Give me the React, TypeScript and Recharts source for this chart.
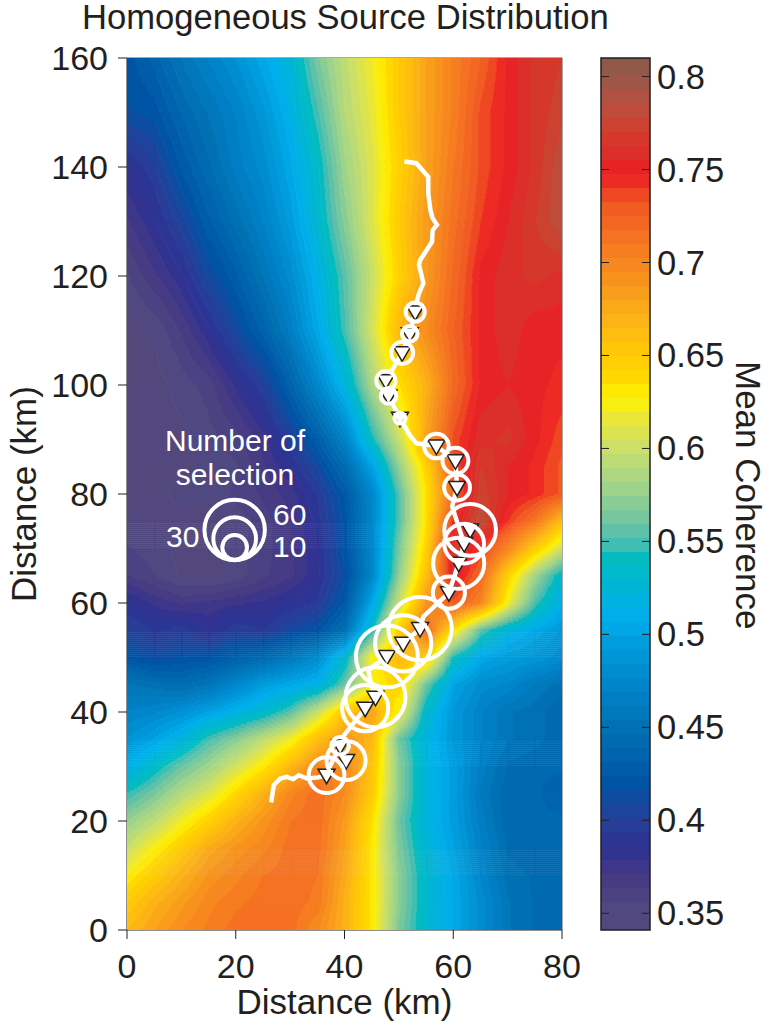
import { ScatterChart, Scatter, XAxis, YAxis, ReferenceArea, ReferenceLine } from "recharts";

const FONT = "'Liberation Sans', Arial, sans-serif";
const INK = "#231f20";

const xTicks = [0, 20, 40, 60, 80];
const yTicks = [0, 20, 40, 60, 80, 100, 120, 140, 160];
const barTicks = [0.35, 0.4, 0.45, 0.5, 0.55, 0.6, 0.65, 0.7, 0.75, 0.8];

const gridX = [0, 5, 10, 15, 20, 25, 30, 35, 40, 45, 50, 55, 60, 65, 70, 75, 80];
const gridY = [160, 150, 140, 130, 120, 110, 100, 90, 85, 80, 75, 70, 65, 60, 55, 50, 45, 40, 35, 30, 25, 20, 15, 10, 5, 0];

const r160 = [.42, .435, .455, .47, .485, .505, .525, .565, .595, .62, .65, .68, .705, .725, .75, .765, .77];
const r150 = [.415, .42, .44, .455, .47, .49, .515, .55, .59, .615, .65, .68, .705, .735, .75, .765, .775];
const r140 = [.385, .40, .425, .445, .465, .48, .505, .535, .58, .61, .645, .68, .71, .735, .75, .765, .785];
const r130 = [.37, .385, .405, .43, .45, .47, .495, .53, .57, .61, .65, .685, .715, .74, .755, .77, .785];
const r120 = [.355, .37, .385, .41, .43, .455, .48, .515, .555, .60, .645, .685, .72, .75, .76, .765, .76];
const r110 = [.345, .35, .365, .385, .41, .435, .465, .505, .55, .605, .665, .695, .725, .75, .76, .75, .75];
const r100 = [.345, .345, .352, .36, .38, .40, .435, .475, .52, .585, .635, .67, .72, .75, .755, .75, .745];
const r90 = [.345, .345, .346, .353, .36, .375, .40, .43, .47, .54, .60, .68, .735, .76, .765, .75, .735];
const r85 = [.345, .346, .345, .352, .355, .37, .385, .41, .445, .50, .575, .645, .73, .77, .755, .745, .73];
const r80 = [.346, .345, .352, .35, .358, .365, .375, .395, .425, .475, .555, .635, .72, .775, .755, .745, .73];
const r75 = [.352, .346, .345, .346, .352, .36, .37, .39, .42, .475, .555, .635, .745, .785, .74, .71, .66];
const r70 = [.357, .352, .346, .345, .353, .36, .37, .385, .42, .475, .565, .645, .77, .74, .70, .65, .60];
const r65 = [.364, .356, .347, .345, .352, .362, .37, .385, .415, .475, .575, .66, .76, .72, .645, .58, .53];
const r60 = [.388, .377, .37, .373, .377, .38, .387, .395, .425, .505, .60, .69, .73, .70, .62, .55, .51];
const r55 = [.403, .392, .397, .386, .399, .394, .409, .42, .45, .54, .65, .72, .635, .555, .52, .505, .49];
const r50 = [.422, .412, .418, .42, .434, .443, .46, .48, .53, .625, .665, .65, .54, .505, .495, .49, .48];
const r45 = [.455, .45, .445, .455, .475, .495, .505, .515, .56, .62, .645, .56, .50, .48, .475, .46, .45];
const r40 = [.47, .475, .485, .50, .515, .53, .555, .60, .655, .68, .62, .53, .49, .47, .455, .45, .44];
const r35 = [.485, .50, .52, .55, .57, .595, .62, .66, .69, .665, .56, .52, .49, .47, .455, .45, .44];
const r30 = [.51, .535, .56, .58, .605, .63, .665, .70, .70, .655, .57, .52, .495, .465, .445, .44, .44];
const r25 = [.545, .565, .59, .61, .64, .67, .70, .716, .695, .65, .57, .52, .495, .46, .44, .44, .435];
const r20 = [.575, .595, .62, .645, .67, .69, .71, .716, .685, .635, .56, .52, .495, .465, .44, .44, .44];
const r15 = [.60, .625, .65, .675, .69, .70, .714, .714, .68, .63, .565, .525, .50, .47, .445, .44, .445];
const r10 = [.627, .65, .67, .69, .70, .71, .714, .71, .675, .63, .57, .53, .505, .475, .45, .445, .445];
const r5 = [.65, .67, .685, .70, .708, .714, .714, .708, .67, .63, .57, .53, .505, .48, .455, .445, .44];
const r0 = [.665, .68, .695, .705, .714, .714, .714, .695, .67, .63, .565, .53, .505, .48, .455, .445, .44];
const gridRows = [r160, r150, r140, r130, r120, r110, r100, r90, r85, r80, r75, r70, r65, r60, r55, r50, r45, r40, r35, r30, r25, r20, r15, r10, r5, r0];

// fault trace
const traceX = [51, 53.2, 55.4, 55.4, 55.8, 56.2, 57, 56.2, 56.1, 53.9, 53.7, 54.5, 53.7, 53.2, 53, 52, 50.6, 47.6, 48.1, 50.2, 52, 53.2, 56.9, 60.4, 60.7, 59.8, 60.4, 62, 61, 59.2, 54.5, 53.9, 50.8, 47.8, 44.4, 44.7, 45.7, 43.8, 40.7, 39.5, 39.2, 37.3, 36.7, 35.2, 33.1, 31.6, 30.6, 29.4, 28.2, 27, 26.5];
const traceY = [141, 140.7, 138.2, 135.2, 132.1, 130.6, 129.4, 128.4, 126.3, 122.9, 122, 118.7, 116.8, 115, 113.4, 109.4, 105.9, 100.8, 98, 93.9, 90.8, 89.3, 88.8, 86.1, 81.2, 77.7, 75.8, 70.9, 67.3, 61.9, 57.5, 55.3, 52.6, 50.2, 47.7, 45.9, 42.7, 40.7, 36.7, 35.2, 33.8, 30, 28.4, 28, 27.8, 28.4, 27.7, 28.1, 27.8, 26.6, 23.4];

// stations and how many times each was selected
const stationX = [53, 52, 50.6, 47.6, 48.1, 50.2, 56.9, 60.4, 60.7, 63.1, 62, 61, 59.2, 53.9, 50.8, 47.8, 45.7, 43.8, 39.2, 40.3, 36.7];
const stationY = [113.4, 109.4, 105.9, 100.8, 98, 93.9, 88.8, 86.1, 81.2, 73.4, 70.9, 67.3, 61.9, 55.3, 52.6, 50.2, 42.7, 40.7, 33.8, 31.1, 28.4];
const selections = [6, 4, 8, 6, 4, 2, 10, 11, 11, 44, 26, 43, 17, 66, 52, 63, 59, 35, 5, 25, 21];

const legendN = [60, 30, 10];
const legendX = [19.8, 19.8, 19.8];
const legendY = [73.4, 71.8, 70.2];

const colorStops: [number, string][] = [
  [.341, "#54477a"], [.35, "#514a80"], [.37, "#453a85"], [.385, "#2e3192"], [.40, "#263f98"], [.42, "#0054a6"],
  [.45, "#0071b3"], [.47, "#0082c8"], [.50, "#00a2e0"], [.507, "#00aeef"], [.525, "#00b5d5"], [.54, "#00bcc0"],
  [.55, "#4fbeb0"], [.565, "#7bc89a"], [.58, "#a3d48a"], [.60, "#cadf6a"], [.615, "#e8e63a"], [.627, "#fff200"],
  [.64, "#ffd500"], [.65, "#ffcb05"], [.665, "#fdb813"], [.68, "#faa21b"], [.70, "#f6861f"], [.715, "#f57022"],
  [.73, "#f15a22"], [.74, "#f03c24"], [.747, "#ed1c24"], [.755, "#e02a28"], [.77, "#d23d2c"], [.785, "#b95040"],
  [.80, "#975848"], [.81, "#8a5a4a"],
];

const hex = (s: string) => [1, 3, 5].map((i) => parseInt(s.slice(i, i + 2), 16));
const colorOf = (v: number) => {
  let i = 0;
  while (i < colorStops.length - 2 && v > colorStops[i + 1][0]) i++;
  const [a, ca] = colorStops[i];
  const [b, cb] = colorStops[i + 1];
  const t = Math.max(0, Math.min(1, (v - a) / (b - a)));
  const c0 = hex(ca);
  const c1 = hex(cb);
  return `rgb(${c0.map((c, k) => Math.round(c + (c1[k] - c) * t)).join(",")})`;
};

const BAR_MIN = 0.341;
const BAR_MAX = 0.81;
const BAR_STEP = 0.00753;
const bands: number[] = [];
for (let v = BAR_MIN; v < BAR_MAX; v += BAR_STEP) bands.push(v);
const bandColors = bands.map((v) => colorOf(v + BAR_STEP / 2));

const PX_X = 435 / 80;
const PX_Y = 872 / 160;

const heatData = gridRows.flatMap((row, j) => row.map((v, i) => ({ x: gridX[i], y: gridY[j], v, i, j })));
const traceData = traceX.map((x, i) => ({ x, y: traceY[i] }));
const stationData = stationX.map((x, i) => ({ x, y: stationY[i], n: selections[i] }));
const legendData = legendN.map((n, i) => ({ x: legendX[i], y: legendY[i], n }));
const barAnchors = [{ x: 0, y: BAR_MIN }, { x: 1, y: BAR_MAX }];

// one grid cell filled the way a contour plot does: corner values blended, then snapped to the colour bands
const HeatCell = (p: any) => {
  const { i, j } = p.payload;
  if (i >= gridX.length - 1 || j >= gridY.length - 1) return <g />;
  const w = (gridX[i + 1] - gridX[i]) * PX_X;
  const h = (gridY[j] - gridY[j + 1]) * PX_Y;
  const a = gridRows[j][i];
  const b = gridRows[j][i + 1];
  const c = gridRows[j + 1][i];
  const d = gridRows[j + 1][i + 1];
  const rects = [];
  const band = (v: number) => Math.max(0, Math.min(bands.length - 1, Math.floor((v - BAR_MIN) / BAR_STEP)));
  for (let sy = 0; sy < h; sy += 2) {
    const ty = (sy + 1) / h;
    let start = 0;
    let cur = -1;
    for (let sx = 0; sx <= Math.ceil(w); sx++) {
      const tx = Math.min(1, sx / w);
      const k = band((a * (1 - tx) + b * tx) * (1 - ty) + (c * (1 - tx) + d * tx) * ty);
      if (cur === -1) cur = k;
      if (k !== cur || sx === Math.ceil(w)) {
        rects.push(
          <rect key={`${sy}-${sx}`} x={p.cx + start} y={p.cy + sy} width={sx - start + 0.5} height={2.5} fill={bandColors[cur]} />,
        );
        start = sx;
        cur = k;
      }
    }
  }
  return <g>{rects}</g>;
};

const Triangle = (p: any) => (
  <path
    d={`M${p.cx - 8.5} ${p.cy - 6}L${p.cx + 8.5} ${p.cy - 6}L${p.cx} ${p.cy + 8.5}Z`}
    fill="#fff"
    stroke={INK}
    strokeWidth={1.5}
  />
);

const Ring = (p: any) => (
  <circle cx={p.cx} cy={p.cy} r={3.9 * Math.sqrt(p.payload.n)} fill="none" stroke="#fff" strokeWidth={4} />
);

const NoDot = () => <g />;

const BarTick = (p: any) => (
  <g>
    <line x1={p.x - 49} x2={p.x - 41} y1={p.y} y2={p.y} stroke={INK} strokeWidth={1} />
    <line x1={p.x - 8} x2={p.x} y1={p.y} y2={p.y} stroke={INK} strokeWidth={1} />
    <text x={p.x + 7} y={p.y + 12} fontSize={34.5} fontFamily={FONT} fill={INK}>
      {p.payload.value}
    </text>
  </g>
);

const overlay = (left: number, top: number, extra: any = {}) => ({
  position: "absolute" as const,
  left,
  top,
  fontFamily: FONT,
  whiteSpace: "nowrap" as const,
  ...extra,
});

export default function App() {
  return (
    <div style={{ position: "absolute", left: 0, top: 0, width: 765, height: 1024, background: "#fff", overflow: "hidden" }}>
      <style>{`.heat-layer{filter:blur(0.6px)}`}</style>

      <div style={{ position: "absolute", left: 560, top: 0 }}>
        <ScatterChart width={205} height={1024} margin={{ top: 58, right: 0, bottom: 94, left: 41 }}>
          <XAxis type="number" dataKey="x" domain={[0, 1]} hide />
          <YAxis
            type="number"
            dataKey="y"
            orientation="right"
            width={115}
            domain={[BAR_MIN, BAR_MAX]}
            ticks={barTicks}
            interval={0}
            axisLine={false}
            tickLine={false}
            tickSize={0}
            tickMargin={0}
            tick={<BarTick />}
          />
          {bands.map((v, i) => (
            <ReferenceArea
              key={v}
              x1={0}
              x2={1}
              y1={v}
              y2={Math.min(v + BAR_STEP, BAR_MAX)}
              fill={bandColors[i]}
              fillOpacity={1}
              stroke="none"
            />
          ))}
          <ReferenceArea x1={0} x2={1} y1={BAR_MIN} y2={BAR_MAX} fill="none" stroke={INK} strokeWidth={1.5} />
          <Scatter data={barAnchors} shape={<NoDot />} isAnimationActive={false} />
        </ScatterChart>
      </div>

      <div style={{ position: "absolute", left: 0, top: 0 }}>
        <ScatterChart width={600} height={1024} margin={{ top: 58, right: 38, bottom: 0, left: 0 }}>
          <XAxis
            type="number"
            dataKey="x"
            domain={[0, 80]}
            allowDataOverflow
            ticks={xTicks}
            height={94}
            tickSize={9}
            tickMargin={15}
            stroke={INK}
            tick={{ fontSize: 34, fill: INK, fontFamily: FONT }}
            label={{ value: "Distance (km)", position: "insideBottom", offset: 10, fontSize: 35, fill: INK, fontFamily: FONT }}
          />
          <YAxis
            type="number"
            dataKey="y"
            domain={[0, 160]}
            allowDataOverflow
            ticks={yTicks}
            interval={0}
            width={127}
            tickSize={9}
            tickMargin={10}
            stroke={INK}
            tick={{ fontSize: 34, fill: INK, fontFamily: FONT }}
            label={{ value: "Distance (km)", angle: -90, position: "insideLeft", offset: 24, fontSize: 35, fill: INK, fontFamily: FONT, style: { textAnchor: "middle" } }}
          />
          <Scatter className="heat-layer" data={heatData} shape={<HeatCell />} isAnimationActive={false} />
          <ReferenceLine y={160} stroke="#555" strokeWidth={1} />
          <ReferenceLine x={80} stroke="#555" strokeWidth={1} />
          <Scatter data={traceData} line={{ stroke: "#fff", strokeWidth: 4.5 }} shape={<NoDot />} isAnimationActive={false} />
          <Scatter data={stationData} shape={<Triangle />} isAnimationActive={false} />
          <Scatter data={stationData} shape={<Ring />} isAnimationActive={false} />
          <Scatter data={legendData} shape={<Ring />} isAnimationActive={false} />
        </ScatterChart>
      </div>

      <div style={overlay(82, 0, { fontSize: 34.6, lineHeight: "34px", color: INK })}>Homogeneous Source Distribution</div>
      <div style={overlay(731, 361, { fontSize: 35, lineHeight: "34px", color: INK, writingMode: "vertical-rl" })}>Mean Coherence</div>
      <div style={overlay(140, 424, { width: 190, textAlign: "center", fontSize: 30, lineHeight: "34px", color: "#fff" })}>
        Number of
        <br />
        selection
      </div>
      <div style={overlay(166, 520, { fontSize: 30, color: "#fff" })}>30</div>
      <div style={overlay(273, 498, { fontSize: 30, color: "#fff" })}>60</div>
      <div style={overlay(273, 530, { fontSize: 30, color: "#fff" })}>10</div>
    </div>
  );
}
